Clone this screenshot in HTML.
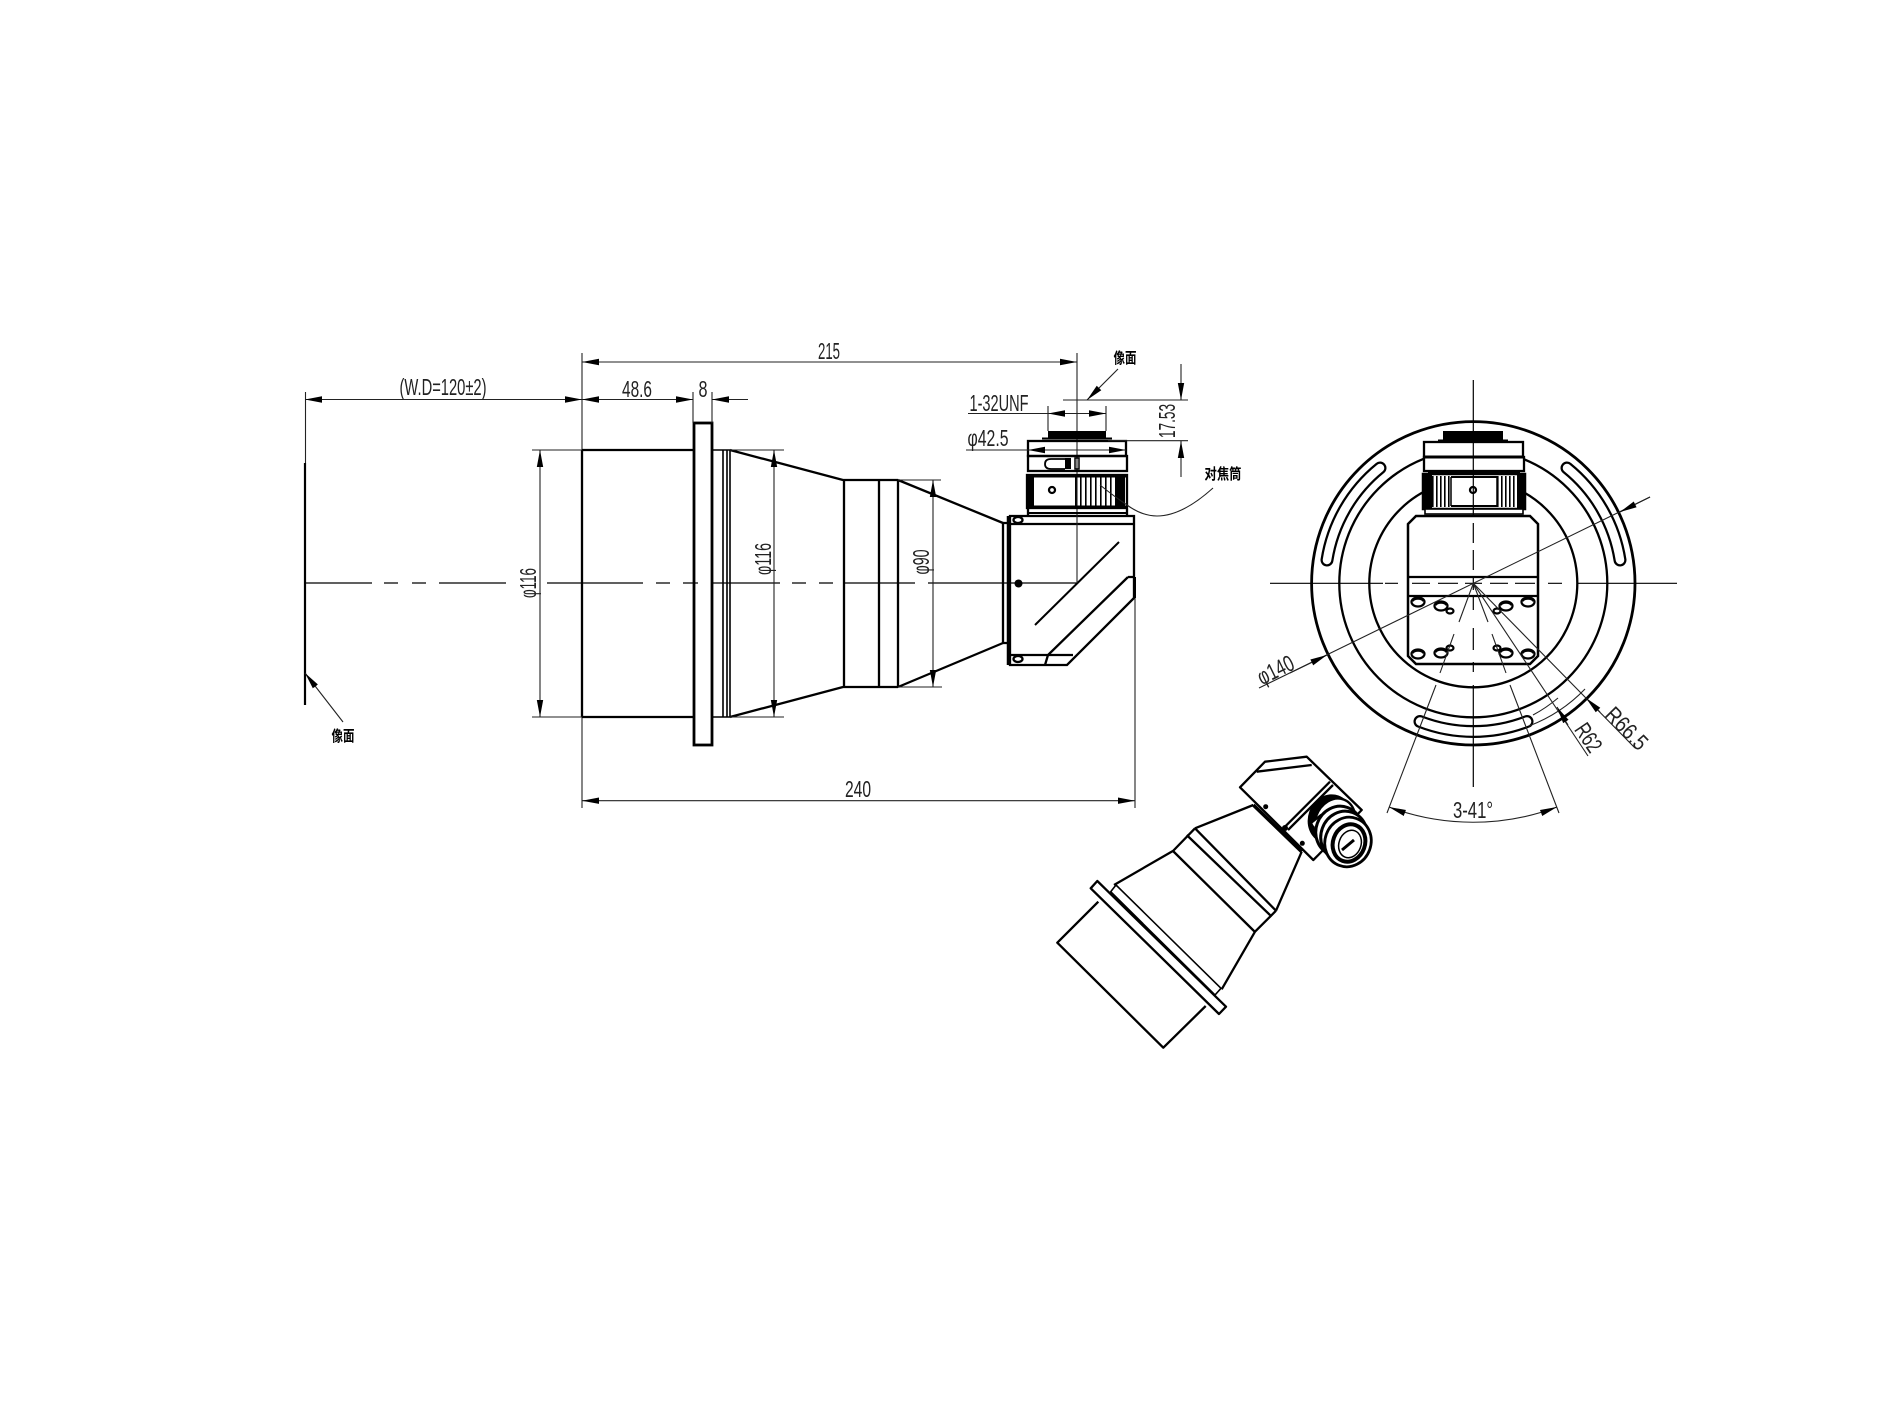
<!DOCTYPE html>
<html><head><meta charset="utf-8"><style>
html,body{margin:0;padding:0;background:#fff}
svg{display:block}
.o{fill:none;stroke:#000;stroke-width:2.3}
.w{fill:#fff;stroke:#000;stroke-width:2.3}
.t{fill:none;stroke:#000;stroke-width:1.2}
.d{fill:none;stroke:#222;stroke-width:1.1}
.k{fill:#000;stroke:none}
text{font-family:"Liberation Sans",sans-serif;font-size:23px;fill:#222;text-anchor:middle}
.c{font-family:"Liberation Sans","Noto Sans CJK SC",sans-serif;font-size:15px;fill:#000;font-weight:700}
</style></head><body>
<svg width="1890" height="1417" viewBox="0 0 1890 1417" xmlns="http://www.w3.org/2000/svg">
<defs>
<marker id="a" markerUnits="userSpaceOnUse" markerWidth="18" markerHeight="8" refX="17" refY="4" orient="auto-start-reverse"><path d="M0 0.8L17 4L0 7.2z" fill="#000"/></marker>
</defs>
<rect width="1890" height="1417" fill="#fff"/>

<!-- LEFT VIEW: centre line -->
<path class="t" d="M305 583H372M384 583H398M412 583H426M439 583H506M547 583H643M656 583H670M683 583H698M712 583H780M792 583H806M819 583H833M843 583H915M928 583H1077"/>
<!-- image plane -->
<path d="M305 463V705" stroke="#000" stroke-width="2.200" fill="none"/>
<path class="d" d="M305.500 392V463"/>
<path class="d" d="M343 722L305 673" marker-end="url(#a)"/>
<text class="c" transform="translate(343,741)" textLength="23" lengthAdjust="spacingAndGlyphs">像面</text>
<!-- barrel -->
<path class="d" d="M582 353V808"/>
<path class="o" d="M582 450H694M582 717H694M582 450V717"/>
<rect class="o" x="694" y="423" width="18" height="322" style="stroke-width:2.800"/>
<path class="o" d="M712 450H730M712 717H730M723 450V717M730 450V717M727 450V717" style="stroke-width:1.600"/>
<path class="o" d="M730 450L843 480M730 717L843 687M843 480H898M843 687H898M844 480V687M879 480V687M898 480V687M898 480L1003 523M898 687L1003 643"/>
<path class="o" d="M1003 523V643H1010M1003 523H1010"/>
<!-- ext lines -->
<path class="d" d="M532 450H582M532 717H582M730 450H784M730 717H784M898 480H941M898 687H942M693 392V423M712 392V423"/>
<!-- box -->
<path class="o" d="M1010 516H1134V598L1067 665H1010ZM1010 524H1134M1010 655H1073M1128 577H1134V598M1128 577L1048 655L1045 665"/>
<path class="o" d="M1119 542L1035 625" style="stroke-width:2"/>
<path d="M1008.500 516V665" stroke="#000" stroke-width="3.500"/>
<path d="M1134.500 577V598" stroke="#000" stroke-width="3"/>
<ellipse class="o" cx="1018" cy="520" rx="4.500" ry="3"/>
<ellipse class="o" cx="1018" cy="659" rx="4.500" ry="3"/>
<circle class="k" cx="1018.500" cy="583.500" r="4"/>
<path class="d" d="M1077 353V583M1135 598V808"/>
<!-- top assembly -->
<rect class="k" x="1048" y="431" width="58" height="8"/>
<path d="M1042 438.500H1112" stroke="#000" stroke-width="2"/>
<rect class="o" x="1028" y="441" width="98" height="15"/>
<rect class="o" x="1028" y="456" width="99" height="15"/>
<path class="o" d="M1065 459H1051Q1045 459 1045 464Q1045 469 1051 469H1065" style="stroke-width:1.800"/>
<rect class="k" x="1065" y="458" width="6" height="11"/>
<rect class="o" x="1075" y="458" width="4" height="11" style="stroke-width:1.500"/>
<rect class="o" x="1027" y="475" width="100" height="33"/>
<rect class="k" x="1026" y="474" width="8" height="35"/>
<path d="M1034 476H1127M1034 507H1127" stroke="#000" stroke-width="3"/>
<circle class="o" cx="1052" cy="490" r="3"/>
<path d="M1075 491H1116" stroke="#000" stroke-width="29" stroke-dasharray="1.600 3.400" fill="none"/>
<rect class="k" x="1116" y="476" width="9" height="30"/>
<path class="o" d="M1028 509V515M1127 509V515"/>
<path d="M1028 513H1127" stroke="#000" stroke-width="2"/>
<path class="d" d="M1100 485Q1115 497 1127 505Q1142 516 1157 516Q1182 516 1213 488"/>
<text class="c" transform="translate(1223,479)" textLength="37" lengthAdjust="spacingAndGlyphs">对焦筒</text>
<path class="d" d="M1063 400H1188"/>
<path class="d" d="M1108 440.700H1188"/>
<path class="d" d="M1118 369L1087 400" marker-end="url(#a)"/>
<text class="c" transform="translate(1125,363)" textLength="23" lengthAdjust="spacingAndGlyphs">像面</text>

<!-- dims left -->
<path class="d" d="M582 362H1077" marker-start="url(#a)" marker-end="url(#a)"/>
<path class="d" d="M305 399.500H582" marker-start="url(#a)" marker-end="url(#a)"/>
<path class="d" d="M582 399.500H693" marker-start="url(#a)" marker-end="url(#a)"/>
<path class="d" d="M748 399.500H712" marker-end="url(#a)"/>
<path class="d" d="M540 450V717" marker-start="url(#a)" marker-end="url(#a)"/>
<path class="d" d="M774 450V717" marker-start="url(#a)" marker-end="url(#a)"/>
<path class="d" d="M933 480V687" marker-start="url(#a)" marker-end="url(#a)"/>
<path class="d" d="M582 800.700H1135" marker-start="url(#a)" marker-end="url(#a)"/>
<path class="d" d="M1048 406V431M1106 406V431"/>
<path class="d" d="M968 413.500H1077"/>
<path class="d" d="M1077 413.500H1048" marker-end="url(#a)"/>
<path class="d" d="M1077 413.500H1106" marker-end="url(#a)"/>
<path class="d" d="M966 450H1077"/>
<path class="d" d="M1077 450H1028" marker-end="url(#a)"/>
<path class="d" d="M1077 450H1126" marker-end="url(#a)"/>
<path class="d" d="M1181 364V400" marker-end="url(#a)"/>
<path class="d" d="M1181 477V441" marker-end="url(#a)"/>

<text transform="translate(443,395)" textLength="87" lengthAdjust="spacingAndGlyphs">(W.D=120±2)</text>
<text transform="translate(637,397)" textLength="30" lengthAdjust="spacingAndGlyphs">48.6</text>
<text transform="translate(703,397)" textLength="9" lengthAdjust="spacingAndGlyphs">8</text>
<text transform="translate(829,359)" textLength="22" lengthAdjust="spacingAndGlyphs">215</text>
<text transform="translate(858,797)" textLength="26" lengthAdjust="spacingAndGlyphs">240</text>
<text transform="translate(999,411)" textLength="59" lengthAdjust="spacingAndGlyphs">1-32UNF</text>
<text transform="translate(988,446)" textLength="41" lengthAdjust="spacingAndGlyphs">φ42.5</text>
<text transform="translate(536,583) rotate(-90)" textLength="30" lengthAdjust="spacingAndGlyphs">φ116</text>
<text transform="translate(771,559) rotate(-90)" textLength="32" lengthAdjust="spacingAndGlyphs">φ116</text>
<text transform="translate(929,562) rotate(-90)" textLength="25" lengthAdjust="spacingAndGlyphs">φ90</text>
<text transform="translate(1175,421) rotate(-90)" textLength="34" lengthAdjust="spacingAndGlyphs">17.53</text>

<!-- RIGHT VIEW -->
<circle cx="1473.300" cy="583.300" r="161.700" fill="none" stroke="#000" stroke-width="2.800"/>
<circle cx="1473.300" cy="583.300" r="134" class="o"/>
<circle cx="1473.300" cy="583.300" r="104" class="o"/>
<!-- slots -->
<g fill="none" stroke-linecap="round">
<path stroke="#000" stroke-width="13" d="M1327 560A148 148 0 0 1 1380 468M1620 560A148 148 0 0 0 1567 468M1420 721.500A148 148 0 0 0 1527 721.500"/>
<path stroke="#fff" stroke-width="8.500" d="M1327 560A148 148 0 0 1 1380 468M1620 560A148 148 0 0 0 1567 468M1420 721.500A148 148 0 0 0 1527 721.500"/>
</g>
<path class="d" d="M1529 726A154 154 0 0 0 1585 689M1533 715A143 143 0 0 0 1558 698"/>
<!-- body -->
<path class="w" d="M1416 516H1530L1538 524V656L1530 664H1416L1408 656V524Z" style="stroke-width:2.500"/>
<path class="o" d="M1408 577H1538M1408 596H1538"/>
<g class="o" style="stroke-width:2.200">
<ellipse cx="1418" cy="602" rx="6.500" ry="4.500"/><ellipse cx="1441" cy="606" rx="6.500" ry="4.500"/><ellipse cx="1450" cy="611" rx="3.500" ry="2.500"/>
<ellipse cx="1528" cy="602" rx="6.500" ry="4.500"/><ellipse cx="1506" cy="606" rx="6.500" ry="4.500"/><ellipse cx="1497" cy="611" rx="3.500" ry="2.500"/>
<ellipse cx="1418" cy="654" rx="6.500" ry="4.500"/><ellipse cx="1441" cy="653" rx="6.500" ry="4.500"/><ellipse cx="1450" cy="648" rx="3.500" ry="2.500"/>
<ellipse cx="1528" cy="654" rx="6.500" ry="4.500"/><ellipse cx="1506" cy="653" rx="6.500" ry="4.500"/><ellipse cx="1497" cy="648" rx="3.500" ry="2.500"/>
</g>
<path d="M1412 601A6.500 4.500 0 0 1 1424 601M1435 605A6.500 4.500 0 0 1 1447 605M1522 601A6.500 4.500 0 0 1 1534 601M1500 605A6.500 4.500 0 0 1 1512 605M1412 653A6.500 4.500 0 0 1 1424 653M1435 652A6.500 4.500 0 0 1 1447 652M1522 653A6.500 4.500 0 0 1 1534 653M1500 652A6.500 4.500 0 0 1 1512 652" fill="none" stroke="#000" stroke-width="3"/>
<!-- top of right view -->
<rect class="k" x="1443" y="431" width="60" height="9"/>
<path d="M1438 440.500H1508" stroke="#000" stroke-width="2"/>
<rect class="w" x="1424" y="442" width="99" height="15"/>
<rect class="w" x="1424" y="457" width="100" height="14"/>
<path d="M1424 457H1524" stroke="#000" stroke-width="3"/>
<rect class="w" x="1423" y="474" width="102" height="35" style="stroke-width:2.500"/>
<path d="M1428 472.500H1520" stroke="#000" stroke-width="3"/>
<rect class="k" x="1423" y="474" width="9" height="35"/>
<rect class="k" x="1517" y="474" width="8" height="35"/>
<path d="M1432 491.500H1450M1497 491.500H1517" stroke="#000" stroke-width="31" stroke-dasharray="1.600 2.400" fill="none"/>
<path d="M1451 477H1497M1451 506H1497" stroke="#000" stroke-width="2"/>
<path d="M1451 477V506M1497 477V506" stroke="#000" stroke-width="1.500"/>
<circle class="o" cx="1473" cy="490" r="3"/>
<rect class="w" x="1425" y="509" width="98" height="5" style="stroke-width:1.600"/>
<!-- centre lines -->
<path class="t" d="M1473.300 380V516M1473.300 523V543M1473.300 550V570M1473.300 577V590M1473.300 597V610M1473.300 628V650M1473.300 662V672M1473.300 685V787"/>
<path class="t" d="M1270 583.300H1383M1385 583.300H1398M1412 583.300H1430M1438 583.300H1458M1465 583.300H1482M1490 583.300H1508M1515 583.300H1535M1548 583.300H1562M1577 583.300H1677"/>
<!-- angular -->
<path class="d" d="M1473.300 583.300L1459 622M1454 634L1440 673M1436 685L1387 813M1473.300 583.300L1488 622M1492 634L1506 673M1510 685L1559 813"/>
<path class="d" d="M1389 807A239 239 0 0 0 1557 807" marker-start="url(#a)" marker-end="url(#a)"/>
<text transform="translate(1473,818)" textLength="40" lengthAdjust="spacingAndGlyphs">3-41°</text>
<!-- radial dims -->
<path class="d" d="M1650 497L1259 688"/>
<path class="d" d="M1650 497L1620 512" marker-end="url(#a)"/>
<path class="d" d="M1290 673L1327 655" marker-end="url(#a)"/>
<text transform="translate(1279,677) rotate(-26)" textLength="38" lengthAdjust="spacingAndGlyphs">φ140</text>
<path class="d" d="M1473.300 583.300L1635 748"/>
<path class="d" d="M1600 712L1586 698" marker-end="url(#a)"/>
<text transform="translate(1621,734) rotate(45.500)" textLength="50" lengthAdjust="spacingAndGlyphs">R66.5</text>
<path class="d" d="M1473.300 583.300L1588 756"/>
<path class="d" d="M1568 725L1557 707" marker-end="url(#a)"/>
<text transform="translate(1582,742) rotate(56)" textLength="30" lengthAdjust="spacingAndGlyphs">R62</text>

<!-- ISO VIEW -->
<g stroke-linejoin="round">
<path class="o" d="M1098.300 901.700L1057.300 942.700L1163.300 1047.700L1205.700 1006"/>
<path class="o" d="M1097.300 881L1090.700 888.300L1219 1014L1226 1006.700Z"/>
<path class="o" d="M1110.700 891.700L1116 885L1221 988.300L1215 995Z" style="stroke-width:1.600"/>
<path class="o" d="M1114 885L1173.300 850.700M1221.700 989.300L1255 931.700M1173 851L1255 932M1173 851L1195 828.300M1186.700 835L1271.700 916.700M1255 931.700L1276 910.700M1195 828.300L1276 910.700M1195 828.300L1253.300 805M1276 910.700L1301.700 851.700"/>
<path d="M1253.300 805L1301.700 851.700" stroke="#000" stroke-width="3.500"/>
<path class="w" d="M1240 787.300L1265 761.700L1306.700 756.700L1361.700 810L1318.300 855L1313.300 860Z"/>
<path class="o" d="M1256.700 771.700L1311.700 765M1285 826.700L1330 781.700M1288 830L1333 785"/>
<circle class="k" cx="1265.700" cy="806.700" r="2.500"/><circle class="k" cx="1285" cy="828" r="3"/><circle class="k" cx="1302.300" cy="843.300" r="2.500"/>
<!-- knob -->
<ellipse cx="1330" cy="819" rx="22" ry="25" transform="rotate(20 1330 819)" fill="#000"/>
<ellipse cx="1335" cy="823" rx="20" ry="25" transform="rotate(20 1335 823)" class="w"/>
<path class="w" d="M1311 823L1321 815L1327 830L1318 838Z"/>
<circle class="k" cx="1312.300" cy="827.700" r="2.500"/>
<ellipse cx="1339" cy="831" rx="23" ry="25" transform="rotate(20 1339 831)" class="w" style="stroke-width:3"/>
<ellipse cx="1344" cy="836" rx="23" ry="25" transform="rotate(20 1344 836)" class="w" style="stroke-width:3"/>
<ellipse cx="1348" cy="842" rx="23" ry="25" transform="rotate(20 1348 842)" class="w" style="stroke-width:2.800"/>
<ellipse cx="1349" cy="843" rx="16" ry="19" transform="rotate(20 1349 843)" fill="#fff" stroke="#000" stroke-width="4"/>
<ellipse cx="1350" cy="844" rx="11" ry="14" transform="rotate(20 1350 844)" fill="#fff" stroke="#000" stroke-width="1.500"/>
<path d="M1342 850L1354 840" stroke="#000" stroke-width="3"/>
</g>
</svg>
</body></html>
